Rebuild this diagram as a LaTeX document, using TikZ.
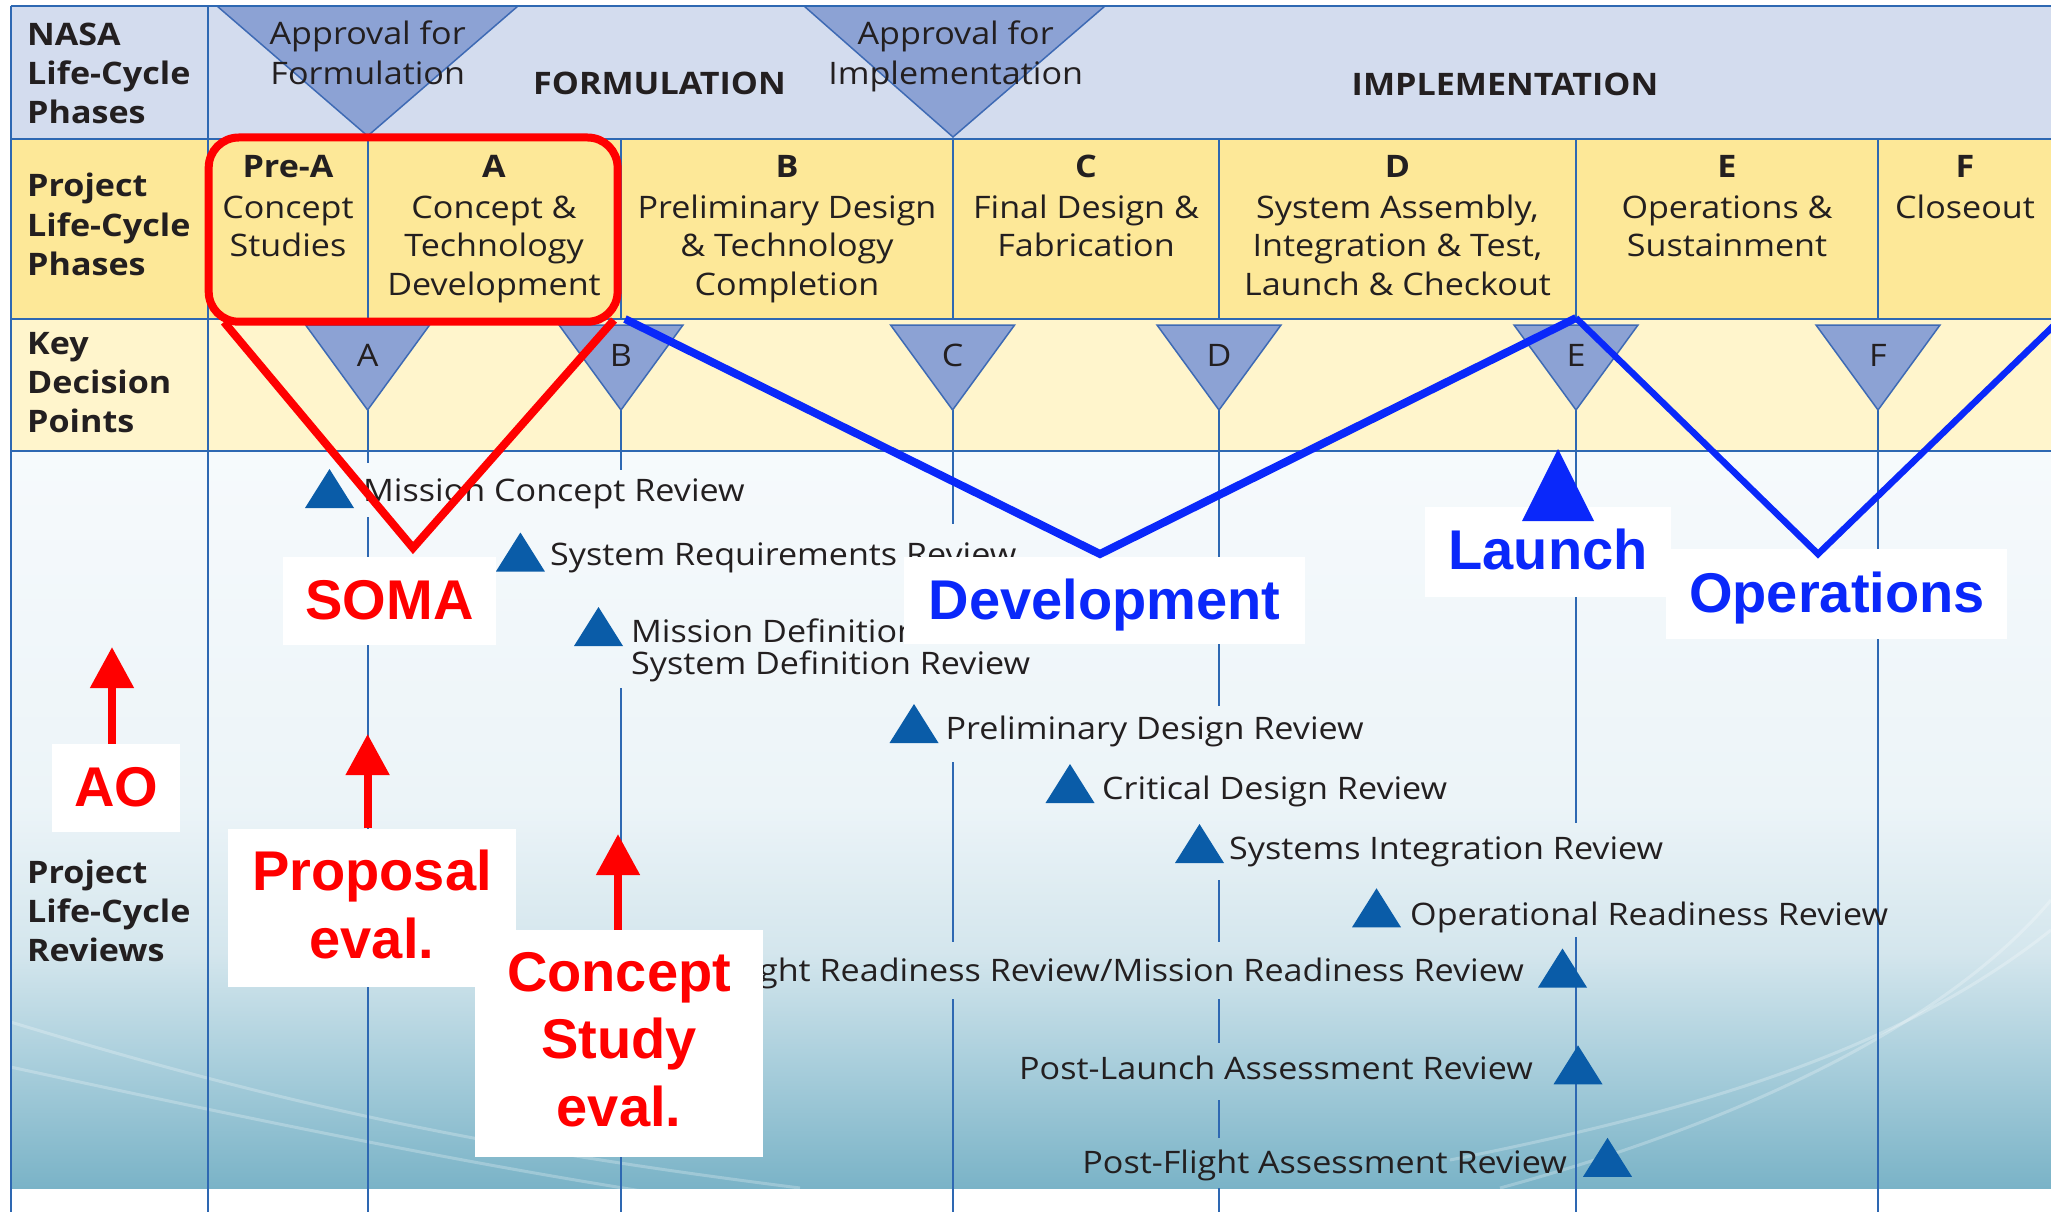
\documentclass[tikz,border=0pt]{standalone}
\usepackage{fontspec}
\setmainfont{Open Sans}[FakeStretch=1.1]
\newfontfamily\annfont{Liberation Sans}
\usetikzlibrary{arrows.meta}
\definecolor{rowA}{RGB}{211,220,238}
\definecolor{rowB}{RGB}{253,232,152}
\definecolor{rowC}{RGB}{255,245,204}
\definecolor{gridc}{RGB}{46,104,178}
\definecolor{kdpfill}{RGB}{140,162,212}
\definecolor{kdpline}{RGB}{62,106,180}
\definecolor{revblue}{RGB}{10,92,168}
\definecolor{txt}{RGB}{35,31,32}
\definecolor{annred}{RGB}{255,0,0}
\definecolor{annblue}{RGB}{10,40,250}
\definecolor{bgA}{RGB}{246,250,252}
\definecolor{bgB}{RGB}{236,244,248}
\definecolor{bgC}{RGB}{212,230,237}
\definecolor{bgD}{RGB}{172,208,221}
\definecolor{bgE}{RGB}{122,179,199}
\pgfdeclareverticalshading{revbg}{100bp}{color(0bp)=(bgE); color(25bp)=(bgE); color(34bp)=(bgD); color(41bp)=(bgC); color(51bp)=(bgB); color(75bp)=(bgA); color(100bp)=(bgA)}
\newcommand\revmark[2]{\fill[revblue] ({#1-24.5},{#2+19.5}) -- ({#1+24.5},{#2+19.5}) -- ({#1},{#2-19.5}) -- cycle;}
\begin{document}
\begin{tikzpicture}[x=1pt,y=-1pt,
  gridl/.style={draw=gridc,line width=2pt},
  kdp/.style={fill=kdpfill,draw=kdpline,line width=1.5pt,line join=miter},
  kdplbl/.style={font=\fontsize{31}{38}\selectfont,text=txt,anchor=base,inner sep=0pt},
  lbl/.style={font=\fontsize{31}{39.3}\selectfont\bfseries,text=txt,align=left,anchor=base west,inner sep=0pt},
  hdl/.style={font=\fontsize{31}{38.5}\selectfont\bfseries,text=txt,anchor=base,inner sep=0pt},
  hdt/.style={font=\fontsize{31}{38.5}\selectfont,text=txt,align=center,anchor=base,inner sep=0pt},
  apt/.style={font=\fontsize{31}{40}\selectfont,text=txt,align=center,anchor=base,inner sep=0pt},
  rvw/.style={font=\fontsize{31}{32.5}\selectfont,text=txt,align=left,anchor=base west,inner sep=0pt},
  rve/.style={font=\fontsize{31}{32.5}\selectfont,text=txt,anchor=base east,inner sep=0pt},
  wbox/.style={fill=white,draw=none,inner sep=0pt},
  annr/.style={font=\annfont\bfseries\fontsize{56}{67.5}\selectfont,text=annred,align=center,anchor=base,inner sep=0pt},
  annb/.style={font=\annfont\bfseries\fontsize{56}{67.5}\selectfont,text=annblue,align=center,anchor=base,inner sep=0pt},
  redarrow/.style={draw=annred,line width=8pt,-{Triangle[length=41pt,width=42pt]}},
  swoosh/.style={draw=white,line width=3pt,opacity=0.25},
]
\useasboundingbox (0,0) rectangle (2051,1212);
\clip (0,0) rectangle (2051,1212);
\fill[white] (0,0) rectangle (2051,1212);
% row backgrounds
\fill[rowA] (10.5,6) rectangle (2051,139);
\fill[rowB] (10.5,139) rectangle (2051,319);
\fill[rowC] (10.5,319) rectangle (2051,451);
\shade[shading=revbg] (10.5,451) rectangle (2051,1188);
\begin{scope}
\clip (10.5,451) rectangle (2051,1188);
\draw[swoosh] (10.5,1022) .. controls (300,1110) and (500,1150) .. (800,1188);
\draw[swoosh] (10.5,1067) .. controls (300,1130) and (500,1170) .. (700,1200);
\draw[swoosh] (1450,1160) .. controls (1700,1110) and (1900,1050) .. (2051,930);
\draw[swoosh] (1500,1188) .. controls (1750,1120) and (1950,1020) .. (2051,900);
\end{scope}
% approval triangles
\filldraw[kdp] (217,6) -- (518,6) -- (367.6,136) -- cycle;
\filldraw[kdp] (804,6) -- (1105,6) -- (953,137) -- cycle;
% grid
\draw[gridl] (10.5,6) -- (10.5,1212);
\draw[gridl] (208,6) -- (208,1212);
\draw[gridl] (10.5,6) -- (2051,6);
\draw[gridl] (10.5,139) -- (2051,139);
\draw[gridl] (10.5,319) -- (2051,319);
\draw[gridl] (10.5,451) -- (2051,451);
\foreach \x in {367.6,621,952.6,1219,1576,1878}{
  \draw[gridl] (\x,139) -- (\x,319);
  \draw[gridl] (\x,410) -- (\x,451);
}
\foreach \x/\ya/\yb in {367.6/451/463, 367.6/517/1212, 621/451/470, 621/688/1212,
  952.6/451/524, 952.6/762/942, 952.6/999/1212,
  1219/451/706, 1219/880/942, 1219/999/1043, 1219/1100/1138, 1219/1188/1212,
  1576/451/823, 1576/937/1212, 1878/451/1212}
  \draw[gridl] (\x,\ya) -- (\x,\yb);
% key decision point triangles
\foreach \x/\l in {367.6/A,621/B,952.6/C,1219/D,1576/E,1878/F}{
  \filldraw[kdp] ({\x-62},325) -- ({\x+62},325) -- (\x,410) -- cycle;
  \node[kdplbl] (kdp\l) at (\x,366.7) {\l};
}
% label column (base anchor = last line baseline)
\node[lbl] (lab1) at (27,123.6) {NASA\\Life-Cycle\\Phases};
\node[lbl] (lab2) at (27,275.3) {Project\\Life-Cycle\\Phases};
\node[lbl] (lab3) at (27,432.6) {Key\\Decision\\Points};
\node[lbl] (lab4) at (27,961.6) {Project\\Life-Cycle\\Reviews};
% top row
\node[apt] (apf) at (367.7,85) {Approval for\\Formulation};
\node[apt] (api) at (955.7,85) {Approval for\\Implementation};
\node[hdl] (form) at (659.5,95) {FORMULATION};
\node[hdl] (impl) at (1505,95.6) {IMPLEMENTATION};
% project phases
\node[hdl] (phPA) at (288,177) {Pre-A};
\node[hdt] (phPAt) at (288,256.5) {Concept\\Studies};
\node[hdl] (phA) at (494,177) {A};
\node[hdt] (phAt) at (494,295) {Concept \&\\Technology\\Development};
\node[hdl] (phB) at (787,177) {B};
\node[hdt] (phBt) at (787,295) {Preliminary Design\\\& Technology\\Completion};
\node[hdl] (phC) at (1086,177) {C};
\node[hdt] (phCt) at (1086,256.5) {Final Design \&\\Fabrication};
\node[hdl] (phD) at (1397.5,177) {D};
\node[hdt] (phDt) at (1397.5,295) {System Assembly,\\Integration \& Test,\\Launch \& Checkout};
\node[hdl] (phE) at (1727,177) {E};
\node[hdt] (phEt) at (1727,256.5) {Operations \&\\Sustainment};
\node[hdl] (phF) at (1965,177) {F};
\node[hdt] (phFt) at (1965,218) {Closeout};
% reviews
\revmark{329.5}{488.5}
\node[rvw] (mcr) at (363,501) {Mission Concept Review};
\revmark{520.4}{552}
\node[rvw] (srr) at (550,565) {System Requirements Review};
\revmark{598.5}{626.5}
\node[rvw] (mdr) at (631,674.5) {Mission Definition Review/\\System Definition Review};
\revmark{914}{723.5}
\node[rvw] (pdr) at (945.5,739) {Preliminary Design Review};
\revmark{1070}{783.5}
\node[rvw] (cdr) at (1102,799) {Critical Design Review};
\revmark{1199.5}{843.5}
\node[rvw] (sir) at (1229,859) {Systems Integration Review};
\revmark{1376.5}{907.8}
\node[rvw] (orr) at (1410,925) {Operational Readiness Review};
\revmark{1562.5}{968}
\node[rve] (frr) at (1524,981) {Flight Readiness Review/Mission Readiness Review};
\revmark{1578}{1064.8}
\node[rve] (plar) at (1533,1079) {Post-Launch Assessment Review};
\revmark{1607.5}{1157.3}
\node[rve] (pfar) at (1567,1173) {Post-Flight Assessment Review};
% red annotations
\draw[annred,line width=8pt,rounded corners=30pt] (208.7,137.5) rectangle (617.6,321.7);
\draw[annred,line width=8pt,line join=miter] (224,322) -- (413,548) -- (614,320);
% white label boxes
\node[wbox,minimum width=213pt,minimum height=88pt] (somabox) at (389.5,601) {};
\node[annr] (soma) at (389.5,619.7) {SOMA};
\node[wbox,minimum width=128pt,minimum height=88pt] (aobox) at (116,788) {};
\node[annr] (ao) at (116,806.8) {AO};
\node[wbox,minimum width=288pt,minimum height=158pt] (propbox) at (372,907.5) {};
\node[annr] (prop) at (372,958) {Proposal\\eval.};
\node[wbox,minimum width=288pt,minimum height=227pt] (concbox) at (619,1043.5) {};
\node[annr] (conc) at (619,1126.4) {Concept\\Study\\eval.};
\node[wbox,minimum width=401pt,minimum height=87pt] (devbox) at (1104.5,600.5) {};
\node[annb] (dev) at (1104.5,619.7) {Development};
\node[wbox,minimum width=246pt,minimum height=90pt] (launchbox) at (1548,552) {};
\node[annb] (launch) at (1548,569) {Launch};
\node[wbox,minimum width=341pt,minimum height=90pt] (opsbox) at (1836.5,594) {};
\node[annb] (ops) at (1837,612.3) {Operations};
% red arrows
\coordinate (aotip) at (112,647);
\draw[redarrow] (aobox.north -| aotip) -- (aotip);
\coordinate (proptip) at (367.6,734);
\draw[redarrow] (propbox.north -| proptip) -- (proptip);
\coordinate (conctip) at (618,834);
\draw[redarrow] (concbox.north -| conctip) -- (conctip);
% blue annotations
\draw[annblue,line width=8pt,line join=miter] (625,319) -- (1100,554) -- (1576,318);
\draw[annblue,line width=6.5pt,line join=miter] (1576,318) -- (1818,554) -- (2075,305);
\fill[annblue] (1522,521) -- (1594,521) -- (1558,449) -- cycle;
\end{tikzpicture}
\end{document}
